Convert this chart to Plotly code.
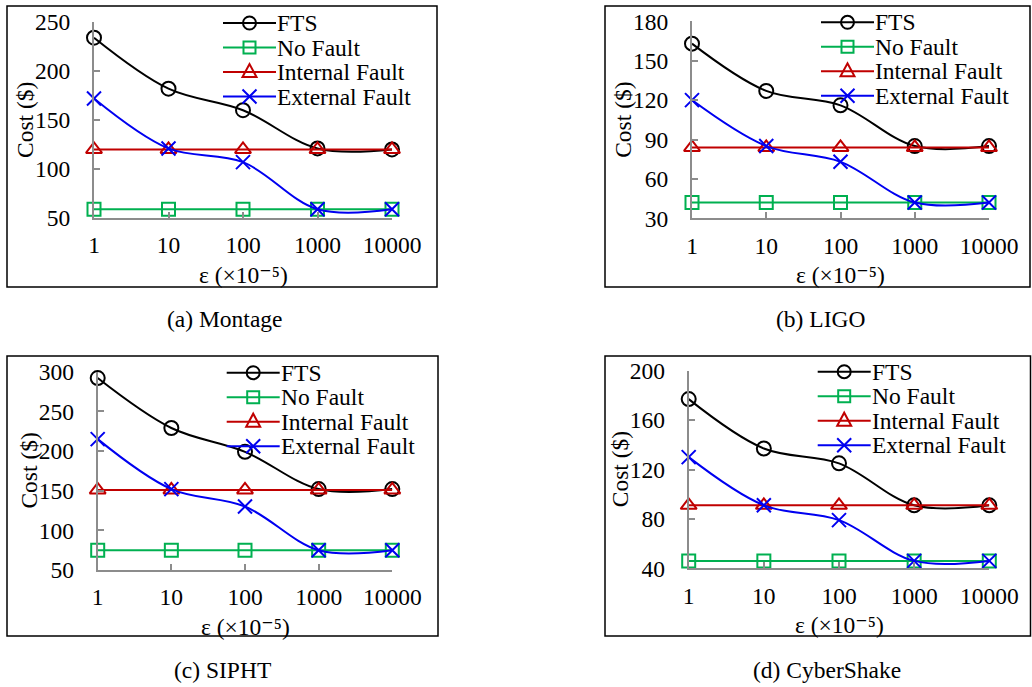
import plotly.graph_objects as go

W, H = 1032, 687   # reference frame (pixels) used to place layout elements

# ---------------- data ----------------
categories = [1, 10, 100, 1000, 10000]
tick_labels = ["1", "10", "100", "1000", "10000"]
series_names = ["FTS", "No Fault", "Internal Fault", "External Fault"]
panel_titles = ["(a) Montage", "(b) LIGO", "(c) SIPHT", "(d) CyberShake"]
y_title = "Cost ($)"
x_title = "ε (×10⁻⁵)"

montage_fts = [234, 182, 160, 121, 120]
montage_no_fault = [59, 59, 59, 59, 59]
montage_internal = [120, 120, 120, 120, 120]
montage_external = [172, 121, 107, 59, 59]
montage_yticks = [50, 100, 150, 200, 250]

ligo_fts = [163, 127, 116, 85, 85]
ligo_no_fault = [42, 42, 42, 42, 42]
ligo_internal = [84, 84, 84, 84, 84]
ligo_external = [120, 85, 73, 42, 42]
ligo_yticks = [30, 60, 90, 120, 150, 180]

sipht_fts = [292, 229, 199, 152, 152]
sipht_no_fault = [75, 75, 75, 75, 75]
sipht_internal = [151, 151, 151, 151, 151]
sipht_external = [215, 152, 130, 75, 75]
sipht_yticks = [50, 100, 150, 200, 250, 300]

cyber_fts = [177, 137, 125, 91, 91]
cyber_no_fault = [46, 46, 46, 46, 46]
cyber_internal = [91, 91, 91, 91, 91]
cyber_external = [130, 91, 79, 46, 46]
cyber_yticks = [40, 80, 120, 160, 200]

panel_series = [
    [montage_fts, montage_no_fault, montage_internal, montage_external],
    [ligo_fts, ligo_no_fault, ligo_internal, ligo_external],
    [sipht_fts, sipht_no_fault, sipht_internal, sipht_external],
    [cyber_fts, cyber_no_fault, cyber_internal, cyber_external],
]
panel_yticks = [montage_yticks, ligo_yticks, sipht_yticks, cyber_yticks]

# ---------------- style / layout ----------------
FONT = "Liberation Serif, Times New Roman, DejaVu Serif, serif"
FS = 23.5
colors = ["#000000", "#00B050", "#C00000", "#0000F0"]
symbols = ["circle-open", "square-open", "triangle-up-open", "x-thin-open"]
msizes = [14, 13, 14, 14]
AXIS_GRAY = "#8c8c8c"

# pixel geometry of each panel: plot area (L,R,T,B), box, caption centre
panels = [
    dict(L=94, R=392, T=22, B=218, box=(7, 6, 437, 287), cap=(225, 319)),
    dict(L=692, R=989, T=21.3, B=218.3, box=(605, 6, 1030, 287), cap=(820, 319)),
    dict(L=97.7, R=392.3, T=371.7, B=570, box=(7, 356, 438, 636), cap=(222, 670)),
    dict(L=688.7, R=989.3, T=370.7, B=568.3, box=(605, 356, 1030.5, 636), cap=(827, 670)),
]


def px(x):
    return x / W


def py(y):
    return 1 - y / H


fig = go.Figure()
shapes = []
annotations = []
layout = {}

for p, (geo, series, yticks, title) in enumerate(zip(panels, panel_series, panel_yticks, panel_titles)):
    n = p + 1
    xa = "x" if n == 1 else f"x{n}"
    ya = "y" if n == 1 else f"y{n}"
    xkey = "xaxis" if n == 1 else f"xaxis{n}"
    ykey = "yaxis" if n == 1 else f"yaxis{n}"

    for i, (name, vals) in enumerate(zip(series_names, series)):
        fig.add_trace(go.Scatter(
            x=categories, y=vals, name=name, xaxis=xa, yaxis=ya,
            mode="lines+markers", showlegend=False, cliponaxis=False,
            line=dict(color=colors[i], width=2, shape="spline", smoothing=1.0),
            marker=dict(symbol=symbols[i], size=msizes[i], color=colors[i],
                        line=dict(color=colors[i], width=2)),
        ))

    layout[xkey] = dict(
        type="log", range=[0, 4], domain=[px(geo["L"]), px(geo["R"])],
        anchor=ya, tickvals=categories, ticktext=tick_labels,
        showline=True, linecolor=AXIS_GRAY, linewidth=2,
        ticks="inside", ticklen=6, tickwidth=2, tickcolor=AXIS_GRAY,
        showgrid=False, zeroline=False, ticklabelstandoff=5,
        tickfont=dict(family=FONT, size=FS, color="black"),
    )
    layout[ykey] = dict(
        range=[yticks[0], yticks[-1]], domain=[py(geo["B"]), py(geo["T"])],
        anchor=xa, tickvals=yticks,
        showline=True, linecolor=AXIS_GRAY, linewidth=2,
        ticks="inside", ticklen=6, tickwidth=2, tickcolor=AXIS_GRAY,
        showgrid=False, zeroline=False, ticklabelstandoff=17,
        tickfont=dict(family=FONT, size=FS, color="black"),
    )

    # panel box
    bx0, by0, bx1, by1 = geo["box"]
    shapes.append(dict(type="rect", xref="paper", yref="paper",
                       x0=px(bx0), x1=px(bx1), y0=py(by1), y1=py(by0),
                       line=dict(color="black", width=1.5), layer="below"))

    # axis titles
    annotations.append(dict(text=y_title, xref="paper", yref="paper",
                            x=px(geo["L"] - 69), y=py((geo["T"] + geo["B"]) / 2),
                            textangle=-90, showarrow=False, xanchor="center", yanchor="middle",
                            borderpad=0,
                            font=dict(family=FONT, size=FS, color="black")))
    annotations.append(dict(text=x_title, xref="paper", yref="paper",
                            x=px((geo["L"] + geo["R"]) / 2), y=py(geo["B"] + 43),
                            showarrow=False, xanchor="center", yanchor="top",
                            borderpad=0,
                            font=dict(family=FONT, size=FS, color="black")))
    # caption
    annotations.append(dict(text=title, xref="paper", yref="paper",
                            x=px(geo["cap"][0]), y=py(geo["cap"][1]),
                            showarrow=False, xanchor="center", yanchor="middle",
                            font=dict(family=FONT, size=FS, color="black")))

    # custom legend
    lx0 = geo["L"] + 129
    for i, name in enumerate(series_names):
        ly = geo["T"] + 1 + 24.5 * i
        c = colors[i]
        shapes.append(dict(type="line", xref="paper", yref="paper",
                           x0=px(lx0), x1=px(lx0 + 53), y0=py(ly), y1=py(ly),
                           line=dict(color=c, width=2)))
        cx = lx0 + 26.5
        r = 6.5
        if i == 0:
            shapes.append(dict(type="circle", xref="paper", yref="paper",
                               x0=px(cx - r), x1=px(cx + r), y0=py(ly + r), y1=py(ly - r),
                               line=dict(color=c, width=2)))
        elif i == 1:
            r = 6
            shapes.append(dict(type="rect", xref="paper", yref="paper",
                               x0=px(cx - r), x1=px(cx + r), y0=py(ly + r), y1=py(ly - r),
                               line=dict(color=c, width=2)))
        elif i == 2:
            path = (f"M{px(cx - 7)},{py(ly + 5)} L{px(cx + 7)},{py(ly + 5)} "
                    f"L{px(cx)},{py(ly - 8)} Z")
            shapes.append(dict(type="path", xref="paper", yref="paper", path=path,
                               line=dict(color=c, width=2)))
        else:
            r = 7
            path = (f"M{px(cx - r)},{py(ly - r)} L{px(cx + r)},{py(ly + r)} "
                    f"M{px(cx - r)},{py(ly + r)} L{px(cx + r)},{py(ly - r)}")
            shapes.append(dict(type="path", xref="paper", yref="paper", path=path,
                               line=dict(color=c, width=2)))
        annotations.append(dict(text=name, xref="paper", yref="paper",
                                x=px(lx0 + 52), y=py(ly), showarrow=False,
                                xanchor="left", yanchor="middle",
                                font=dict(family=FONT, size=FS, color="black")))

fig.update_layout(
    autosize=True,
    margin=dict(l=0, r=0, t=0, b=0, autoexpand=False),
    paper_bgcolor="white", plot_bgcolor="rgba(0,0,0,0)",
    showlegend=False,
    shapes=shapes, annotations=annotations,
    font=dict(family=FONT, size=FS, color="black"),
    **layout,
)

pin_script = (
    "document.documentElement.style.margin='0';"
    "document.body.style.margin='0';document.body.style.padding='0';"
    "document.documentElement.style.overflow='hidden';document.body.style.overflow='hidden';"
    "var d=document.getElementById('{plot_id}');"
    "d.style.position='fixed';d.style.left='0px';d.style.top='0px';"
)

fig.write_html("out.html", config={"displayModeBar": False},
               default_width="100vw", default_height="100vh",
               post_script=pin_script)
